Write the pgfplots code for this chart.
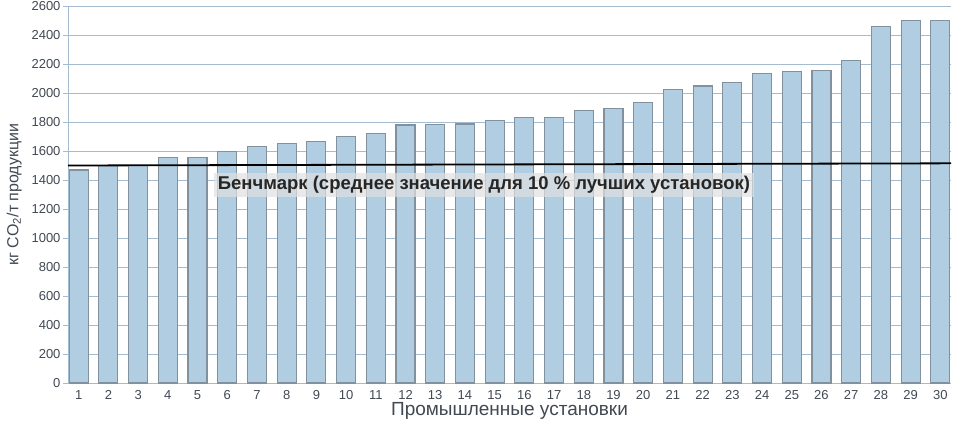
\documentclass[border=0pt]{standalone}
\usepackage{pgfplots}
\pgfplotsset{compat=1.18}
\usepackage{fontspec}
\setmainfont{Liberation Sans}
\definecolor{barfill}{RGB}{176,205,226}
\definecolor{baredge}{RGB}{130,145,158}
\definecolor{gridc}{RGB}{165,188,208}
\definecolor{txt}{RGB}{65,72,82}
\begin{document}
\begin{tikzpicture}
\useasboundingbox (-68pt,-40pt) rectangle (888pt,383pt);
\begin{axis}[
  at={(0pt,0pt)}, anchor=south west,
  scale only axis,
  width=883pt, height=377pt,
  xmin=0.64, xmax=30.36,
  ymin=0, ymax=2600,
  ytick={0,200,...,2600},
  xtick={1,...,30},
  /pgf/number format/assume math mode=true,
  /pgf/number format/1000 sep={},
  ymajorgrids,
  grid style={gridc, line width=0.9pt},
  axis y line=left, axis x line=bottom,
  axis line style={-, gridc, line width=0.9pt},
  x tick style={draw=none},
  y tick style={gridc, line width=0.9pt},
  tick align=outside, major tick length=5pt,
  tick label style={font=\fontsize{13}{15}\selectfont, text=txt},
  yticklabel style={xshift=1pt},
  xticklabel style={yshift=1pt},
  xlabel={Промышленные установки},
  xlabel style={font=\fontsize{19}{21}\selectfont, text=txt, yshift=4pt},
  ylabel={кг CO\textsubscript{2}/т продукции},
  ylabel style={font=\fontsize{16}{18}\selectfont, text=txt, yshift=3pt},
  clip=false,
]
\addplot[ybar, bar width=19pt, fill=barfill, draw=baredge, line width=1.1pt] coordinates {
(1,1469) (2,1499) (3,1502) (4,1554) (5,1558) (6,1595) (7,1629) (8,1653) (9,1664) (10,1698)
(11,1722) (12,1779) (13,1782) (14,1786) (15,1809) (16,1829) (17,1829) (18,1877) (19,1891) (20,1935)
(21,2027) (22,2048) (23,2070) (24,2135) (25,2146) (26,2158) (27,2225) (28,2461) (29,2497) (30,2501)
};
\addplot[black, line width=1.8pt, no marks] coordinates {(0.64,1500) (30.36,1515)};
\node[fill=black!12, fill opacity=0.7, text opacity=1, text=black!85, inner xsep=4pt, inner ysep=3pt,
      font=\bfseries\fontsize{18.5}{20}\selectfont] at (axis cs:14.64,1366)
  {Бенчмарк (среднее значение для 10 \% лучших установок)};
\end{axis}
\end{tikzpicture}
\end{document}
